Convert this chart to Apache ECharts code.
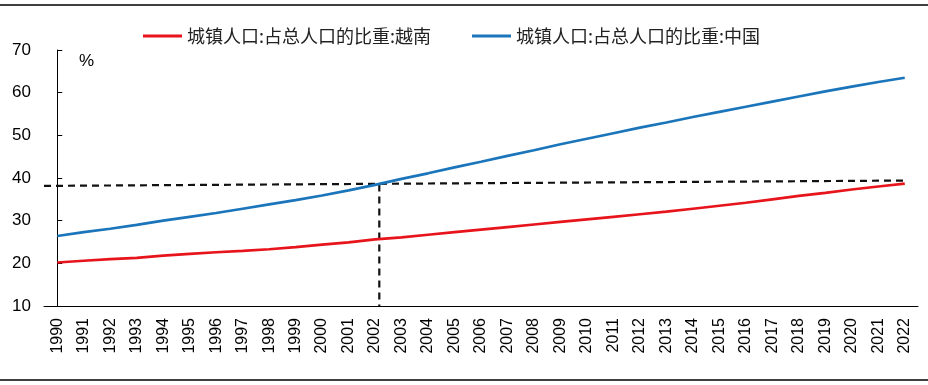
<!DOCTYPE html>
<html>
<head>
<meta charset="utf-8">
<script src="https://cdn.jsdelivr.net/npm/echarts@6/dist/echarts.min.js"></script>
<style>
html,body{margin:0;padding:0;background:#fff;}
#chart{width:928px;height:385px;}
</style>
</head>
<body>
<div id="chart"></div>
<script>
var years = ['1990','1991','1992','1993','1994','1995','1996','1997','1998','1999','2000','2001','2002','2003','2004','2005','2006','2007','2008','2009','2010','2011','2012','2013','2014','2015','2016','2017','2018','2019','2020','2021','2022'];
var vietnam = [20.2,20.6,21.0,21.3,21.8,22.2,22.6,22.9,23.3,23.8,24.4,24.9,25.6,26.1,26.7,27.3,27.9,28.5,29.1,29.7,30.3,30.9,31.5,32.1,32.8,33.5,34.2,35.0,35.8,36.5,37.3,38.0,38.7];
var china = [26.4,27.3,28.1,29.0,30.0,30.9,31.8,32.8,33.8,34.8,35.9,37.1,38.4,39.8,41.1,42.5,43.8,45.2,46.5,47.9,49.2,50.5,51.8,53.0,54.3,55.5,56.7,57.9,59.1,60.3,61.4,62.5,63.5];
var seriesNames = ['城镇人口:占总人口的比重:越南','城镇人口:占总人口的比重:中国'];
var yTicks = {min:10, max:70, interval:10};
// dashed guide lines: [category position, value]
var guideH = [[-0.5,38.15],[32,39.4]];
var guideV = [[12.16,38.5],[12.16,10]];

var chart = echarts.init(document.getElementById('chart'));
var font = 'Liberation Sans, Arial, sans-serif';
var guideStyle = {color:'#111', width:2.2, type:[7,5]};
chart.setOption({
  animation:false,
  backgroundColor:'#fff',
  grid:{left:44, right:10, top:50, bottom:79, containLabel:false},
  legend:{
    left:143, top:27, padding:0,
    data:seriesNames,
    icon:'rect', itemWidth:39, itemHeight:3, itemGap:41,
    textStyle:{fontFamily:'Noto Sans CJK SC', fontSize:18, color:'#222'}
  },
  xAxis:[{
    type:'category', data:years, boundaryGap:true,
    axisLine:{lineStyle:{color:'#000', width:1}},
    axisTick:{inside:true, length:5, lineStyle:{color:'#000'}},
    axisLabel:{rotate:90, margin:12, interval:0, fontFamily:font, fontSize:16, color:'#000'}
  },{
    type:'value', min:-0.5, max:32.5, show:false
  }],
  yAxis:{
    type:'value', min:yTicks.min, max:yTicks.max, interval:yTicks.interval,
    axisLine:{show:true, lineStyle:{color:'#000', width:1}},
    axisTick:{show:true, inside:true, length:5, lineStyle:{color:'#000'}},
    splitLine:{show:false},
    axisLabel:{margin:13, fontFamily:font, fontSize:17, color:'#000'}
  },
  graphic:[
    {type:'line', shape:{x1:0,y1:5,x2:928,y2:5}, style:{stroke:'#000', lineWidth:1.5}},
    {type:'line', shape:{x1:0,y1:380,x2:928,y2:380}, style:{stroke:'#000', lineWidth:1.5}},
    {type:'text', left:79, top:53, style:{text:'%', fontFamily:font, fontSize:17, fill:'#000'}}
  ],
  series:[
    {name:seriesNames[0], type:'line', data:vietnam, symbol:'none', z:3,
     lineStyle:{color:'#e8141c', width:2.7}, itemStyle:{color:'#e8141c'}},
    {name:seriesNames[1], type:'line', data:china, symbol:'none', z:3,
     lineStyle:{color:'#1b75bb', width:2.7}, itemStyle:{color:'#1b75bb'}},
    {name:'h', type:'line', xAxisIndex:1, data:guideH, symbol:'none', lineStyle:guideStyle, z:2},
    {name:'v', type:'line', xAxisIndex:1, data:guideV, symbol:'none', lineStyle:guideStyle, z:2}
  ]
});
</script>
</body>
</html>
